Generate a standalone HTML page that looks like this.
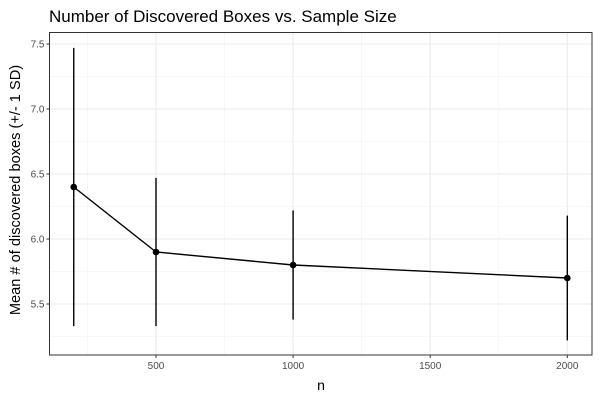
<!DOCTYPE html>
<html><head><meta charset="utf-8"><style>
body{margin:0;background:#fff;}
svg{display:block;font-family:"Liberation Sans",sans-serif;}
</style></head><body>
<svg id="chart" width="600" height="400">
<text x="49" y="22" font-size="17" fill="#000">Number of Discovered Boxes vs. Sample Size</text>
<g id="grid"></g><g id="marks"></g><g id="axes"></g>
<text x="321" y="390" font-size="14" text-anchor="middle" fill="#000">n</text>
<text transform="translate(20,190) rotate(-90)" font-size="14.6" text-anchor="middle" fill="#000">Mean # of discovered boxes (+/- 1 SD)</text>
</svg>
<script>
const nValues=[200,500,1000,2000];
const means=[6.4,5.9,5.8,5.7];
const upper=[7.47,6.47,6.22,6.18];
const lower=[5.33,5.33,5.38,5.22];
const xTicks=[500,1000,1500,2000];
const yTicks=[5.5,6.0,6.5,7.0,7.5];
const xTickLabels=["500","1000","1500","2000"];
const yTickLabels=["5.5","6.0","6.5","7.0","7.5"];
const L=49.5,R=592,T=32.5,B=355;
const xs=v=>156+(v-500)*(411.3/1500);
const ys=v=>44+(7.5-v)*130;
const NS="http://www.w3.org/2000/svg";
function mk(tag,attrs,parent){const e=document.createElementNS(NS,tag);for(const k in attrs)e.setAttribute(k,attrs[k]);parent.appendChild(e);return e;}
const grid=document.getElementById('grid'),marks=document.getElementById('marks'),axes=document.getElementById('axes');
mk('rect',{x:L,y:T,width:R-L,height:B-T,fill:'#fff'},grid);
for(const v of [250,750,1250,1750]){const l=mk('line',{x1:xs(v),x2:xs(v),y1:T,y2:B,stroke:'#f2f2f2','stroke-width':0.6},grid);}
for(const v of [5.25,5.75,6.25,6.75,7.25]){const l=mk('line',{x1:L,x2:R,y1:ys(v),y2:ys(v),stroke:'#f2f2f2','stroke-width':0.6},grid);}
xTicks.forEach((v,i)=>{
const l=mk('line',{x1:xs(v),x2:xs(v),y1:T,y2:B,stroke:'#ebebeb','stroke-width':1.1},grid);

mk('line',{x1:xs(v),x2:xs(v),y1:B,y2:B+3,stroke:'#333'},axes);
const t=mk('text',{x:xs(v),y:B+14,'font-size':10,'text-anchor':'middle',fill:'#4d4d4d'},axes);t.textContent=xTickLabels[i];

});
yTicks.forEach((v,i)=>{
const l=mk('line',{x1:L,x2:R,y1:ys(v),y2:ys(v),stroke:'#ebebeb','stroke-width':1.1},grid);

mk('line',{x1:L-3,x2:L,y1:ys(v),y2:ys(v),stroke:'#333'},axes);
const t=mk('text',{x:L-5,y:ys(v)+3.5,'font-size':10,'text-anchor':'end',fill:'#4d4d4d'},axes);t.textContent=yTickLabels[i];

});
const frame=mk('rect',{x:L,y:T,width:R-L,height:B-T,fill:'none',stroke:'#333','stroke-width':1},axes);

nValues.forEach((n,i)=>{
const e=mk('line',{x1:xs(n),x2:xs(n),y1:ys(upper[i]),y2:ys(lower[i]),stroke:'#000','stroke-width':1.4},marks);

});
const p=mk('polyline',{points:nValues.map((n,i)=>xs(n)+','+ys(means[i])).join(' '),fill:'none',stroke:'#000','stroke-width':1.4},marks);

nValues.forEach((n,i)=>{
const c=mk('circle',{cx:xs(n),cy:ys(means[i]),r:3.3,fill:'#000'},marks);

});
</script>
</body></html>
